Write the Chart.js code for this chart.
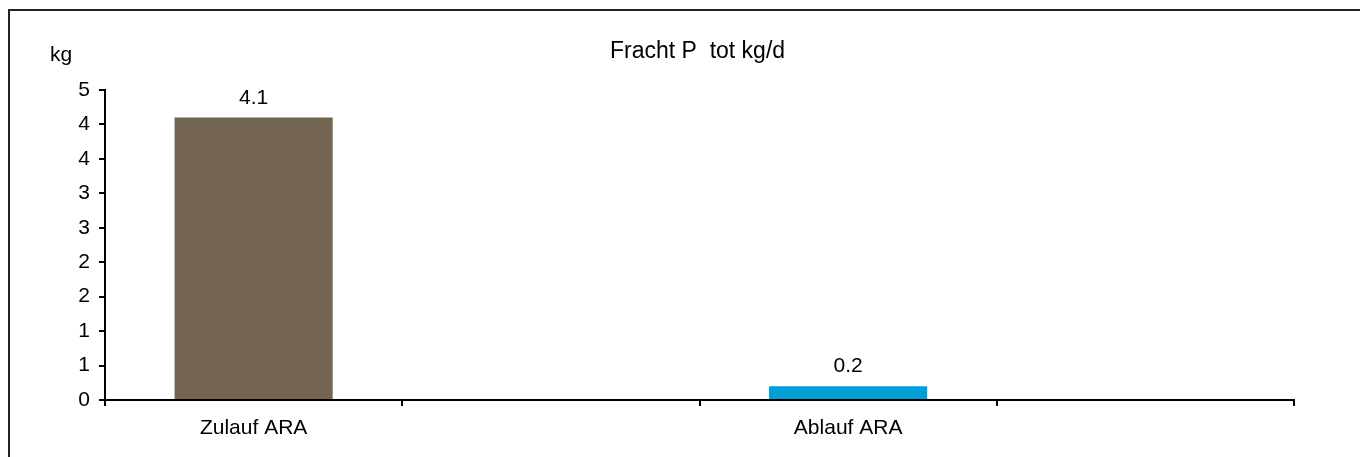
<!DOCTYPE html>
<html>
<head>
<meta charset="utf-8">
<script src="https://cdn.jsdelivr.net/npm/chart.js@4.4.1/dist/chart.umd.min.js"></script>
<style>
  html, body { margin: 0; padding: 0; background: #fff; }
  #wrap { width: 1360px; height: 457px; }
</style>
</head>
<body>
<div id="wrap"><canvas id="chart1" width="1360" height="457"></canvas></div>
<script>
// data
var categories = ["Zulauf ARA", "", "Ablauf ARA", ""];
var loads = [4.1, null, 0.2, null];
var barColors = ["#736551", "#736551", "#009fd7", "#009fd7"];
var yMax = 4.5;
var yStep = 0.5;
var chartTitle = "Fracht P  tot kg/d";
var unitLabel = "kg";

var FONT = "'Liberation Sans', Arial, sans-serif";

// frame, bar labels, title and unit
var extras = {
    id: 'extras',
    beforeDraw: function(chart) {
        var ctx = chart.ctx;
        ctx.save();
        ctx.fillStyle = '#fff';
        ctx.fillRect(0, 0, chart.width, chart.height);
        ctx.strokeStyle = '#222';
        ctx.lineWidth = 2;
        ctx.strokeRect(9, 10, chart.width + 20, chart.height + 20);
        ctx.restore();
    },
    afterDatasetsDraw: function(chart) {
        var ctx = chart.ctx;
        var meta = chart.getDatasetMeta(0);
        ctx.save();
        ctx.font = '21px ' + FONT;
        ctx.fillStyle = '#000';
        ctx.textAlign = 'center';
        ctx.textBaseline = 'alphabetic';
        meta.data.forEach(function(bar, i) {
            if (loads[i] == null) return;
            ctx.fillText(loads[i].toFixed(1), bar.x, bar.y - 14);
        });
        ctx.restore();
    },
    afterDraw: function(chart) {
        var ctx = chart.ctx;
        var area = chart.chartArea;
        ctx.save();
        ctx.fillStyle = '#000';
        ctx.textBaseline = 'middle';
        ctx.textAlign = 'center';
        ctx.font = '23px ' + FONT;
        ctx.fillText(chartTitle, (area.left + area.right) / 2 - 2, 52);
        ctx.font = '21px ' + FONT;
        ctx.fillText(unitLabel, 61, 55);
        ctx.restore();
    }
};

var ctx = document.getElementById("chart1");
var chart1 = new Chart(ctx, {
    type: 'bar',
    data: {
        labels: categories,
        datasets: [{
            data: loads,
            backgroundColor: barColors,
            borderWidth: 0,
            categoryPercentage: 1,
            barPercentage: 0.532
        }]
    },
    options: {
        responsive: false,
        animation: false,
        devicePixelRatio: 1,
        layout: {
            padding: { top: 90, right: 66, left: 0, bottom: 0 }
        },
        plugins: {
            legend: { display: false },
            tooltip: { enabled: false },
            title: { display: false }
        },
        scales: {
            x: {
                offset: true,
                grid: {
                    offset: true,
                    drawOnChartArea: false,
                    drawTicks: true,
                    tickLength: 6,
                    color: '#000',
                    lineWidth: 2
                },
                border: { display: true, color: '#000', width: 2 },
                ticks: {
                    color: '#000',
                    padding: 10,
                    maxRotation: 0,
                    autoSkip: false,
                    font: { family: FONT, size: 21 }
                },
                afterFit: function(scale) { scale.height = 57; }
            },
            y: {
                min: 0,
                max: yMax,
                grid: {
                    drawOnChartArea: false,
                    drawTicks: true,
                    tickLength: 6,
                    color: '#000',
                    lineWidth: 2
                },
                border: { display: true, color: '#000', width: 2 },
                ticks: {
                    stepSize: yStep,
                    color: '#000',
                    padding: 9,
                    font: { family: FONT, size: 21 },
                    callback: function(v) { return Math.round(v); }
                },
                afterFit: function(scale) { scale.width = 105; }
            }
        }
    },
    plugins: [extras]
});
</script>
</body>
</html>
